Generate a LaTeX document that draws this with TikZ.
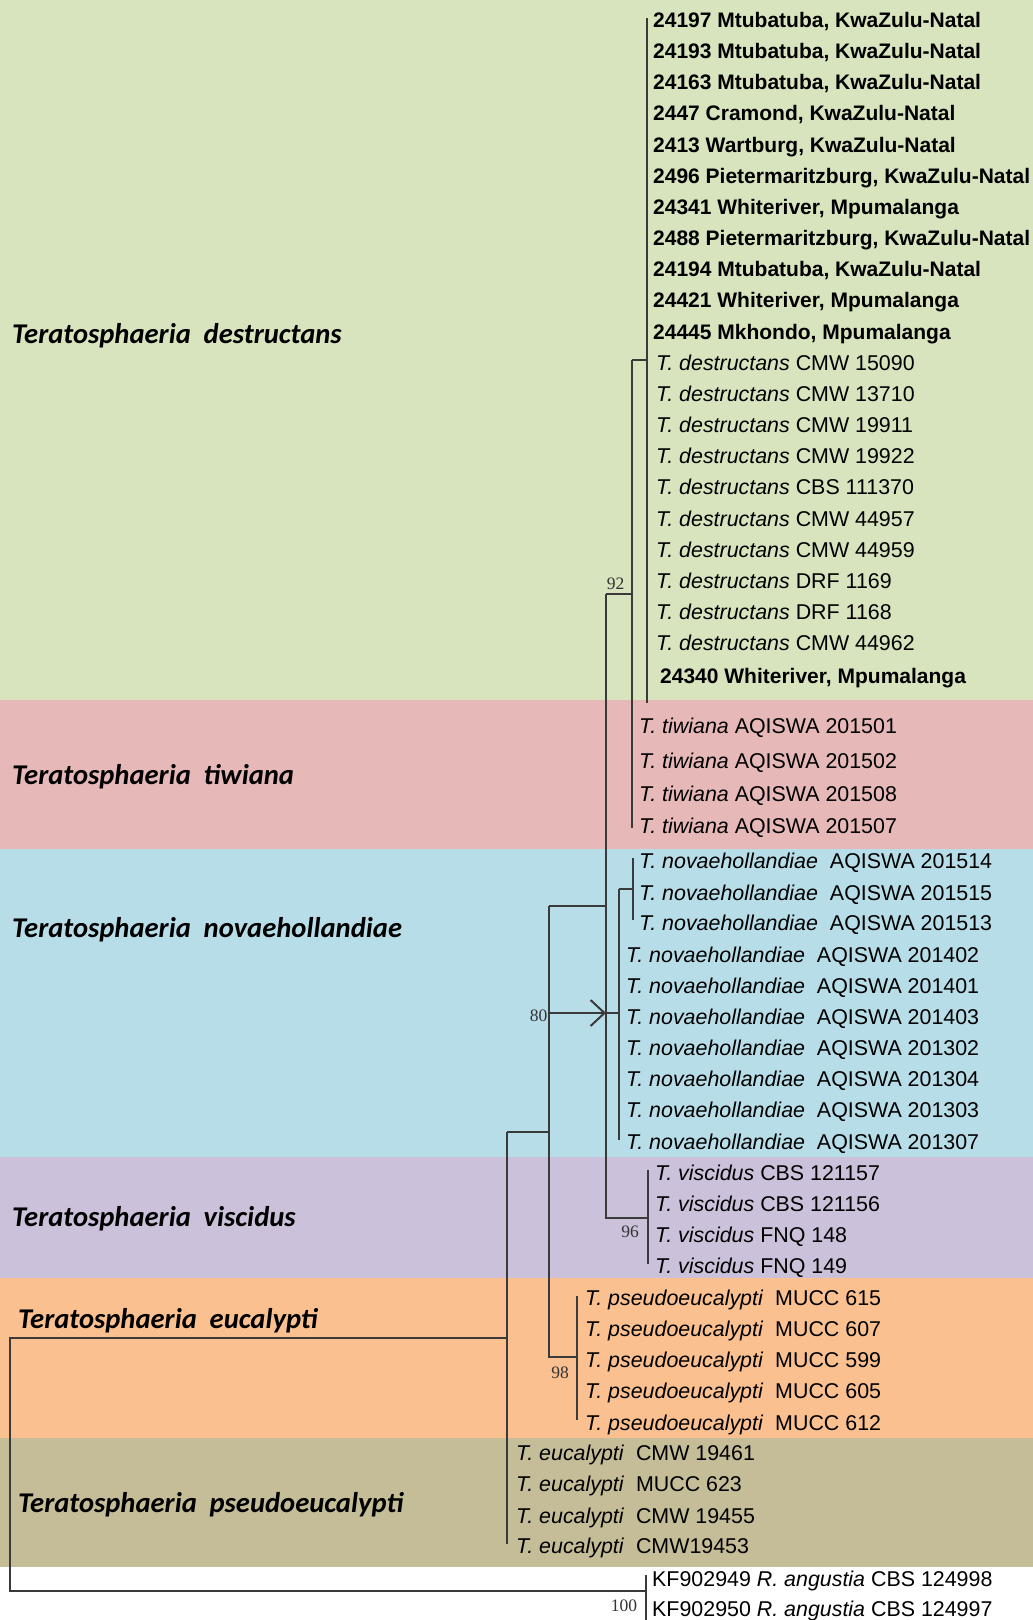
\documentclass[tikz,border=0pt]{standalone}
\usepackage{fontspec}
\setmainfont{Liberation Sans}
\newfontfamily\cladefont{Carlito}
\newfontfamily\bsfont{Liberation Serif}
\usetikzlibrary{arrows.meta}
\definecolor{bgreen}{HTML}{D7E4BD}
\definecolor{bpink}{HTML}{E6B9B8}
\definecolor{bblue}{HTML}{B7DEE8}
\definecolor{bpurple}{HTML}{CCC1DA}
\definecolor{borange}{HTML}{FAC090}
\definecolor{bolive}{HTML}{C4BD97}
\definecolor{treeline}{HTML}{3A3A3A}
\begin{document}
\begin{tikzpicture}[x=1pt,y=-1pt,
  leaf/.style={anchor=base west,inner sep=0pt,font=\fontsize{21.4}{21.4}\selectfont},
  boldleaf/.style={anchor=base west,inner sep=0pt,font=\fontsize{21}{21}\selectfont\bfseries},
  clade/.style={anchor=base west,inner sep=0pt,font=\cladefont\fontsize{28.6}{28.6}\selectfont\bfseries\itshape},
  bs/.style={inner sep=0pt,font=\bsfont\fontsize{17.5}{17.5}\selectfont,text=black!80},
  br/.style={draw=treeline,line width=1.2pt},
  arrowline/.style={draw=treeline,line width=2pt,-{Straight Barb[length=14pt,width=26pt,line width=2pt]}}
]
\useasboundingbox (0,0) rectangle (1033,1620);
% background bands
\fill[bgreen] (0,0) rectangle (1033,700);
\fill[bpink] (0,700) rectangle (1033,849);
\fill[bblue] (0,849) rectangle (1033,1157);
\fill[bpurple] (0,1157) rectangle (1033,1278);
\fill[borange] (0,1278) rectangle (1033,1438);
\fill[bolive] (0,1438) rectangle (1033,1567);

% clade labels
\newcommand{\gap}{\hspace{0.45em}}
\node[clade] (cl1) at (12,343) {Teratosphaeria\gap destructans};
\node[clade] (cl2) at (12,784) {Teratosphaeria\gap tiwiana};
\node[clade] (cl3) at (12,937) {Teratosphaeria\gap novaehollandiae};
\node[clade] (cl4) at (12,1226) {Teratosphaeria\gap viscidus};
\node[clade] (cl5) at (18,1328) {Teratosphaeria\gap eucalypti};
\node[clade] (cl6) at (18,1512) {Teratosphaeria\gap pseudoeucalypti};

% tree coordinates
\coordinate (dTop) at (647,18);
\coordinate (dBot) at (647,703);
\coordinate (dJoin) at (647,360);
\coordinate (dtNode) at (632,360);
\coordinate (dtBot) at (632,828);
\coordinate (dtJoin) at (632,594);
\coordinate (n92) at (606,594);
\coordinate (n92Bot) at (606,1218);
\coordinate (n92Mid) at (606,906);
\coordinate (n92Arr) at (606,1013);
\coordinate (vJoin) at (648,1218);
\coordinate (vTop) at (648,1170);
\coordinate (vBot) at (648,1264);
\coordinate (nvNode) at (619,1013);
\coordinate (nvTop) at (619,889);
\coordinate (nvBot) at (619,1140);
\coordinate (nvSubJoin) at (633,889);
\coordinate (nvSubTop) at (633,858);
\coordinate (nvSubBot) at (633,920);
\coordinate (n80) at (549,906);
\coordinate (n80Arr) at (549,1013);
\coordinate (n80Mid) at (549,1132);
\coordinate (n80Bot) at (549,1357);
\coordinate (peJoin) at (577,1357);
\coordinate (peTop) at (577,1296);
\coordinate (peBot) at (577,1420);
\coordinate (eNode) at (507,1132);
\coordinate (eMid) at (507,1338);
\coordinate (eBot) at (507,1544);
\coordinate (root) at (10,1338);
\coordinate (rootBot) at (10,1591);
\coordinate (ogJoin) at (646,1591);
\coordinate (ogTop) at (646,1575);
\coordinate (ogBot) at (646,1620);

% branches
\draw[br] (dTop) -- (dBot);
\draw[br] (dtNode) -- (dJoin);
\draw[br] (dtNode) -- (dtBot);
\draw[br] (n92) -- (dtJoin);
\draw[br] (n92) -- (n92Bot) -- (vJoin);
\draw[br] (vTop) -- (vBot);
\draw[br] (n80) -- (n92Mid);
\draw[arrowline] (n80Arr) -- (n92Arr);
\draw[br] (n92Arr) -- (nvNode);
\draw[br] (nvTop) -- (nvBot);
\draw[br] (nvTop) -- (nvSubJoin);
\draw[br] (nvSubTop) -- (nvSubBot);
\draw[br] (n80) -- (n80Bot) -- (peJoin);
\draw[br] (peTop) -- (peBot);
\draw[br] (eNode) -- (n80Mid);
\draw[br] (eNode) -- (eBot);
\draw[br] (eMid) -- (root) -- (rootBot) -- (ogJoin);
\draw[br] (ogTop) -- (ogBot);

% bootstrap values
\node[bs] (b92) at (615.5,584) {92};
\node[bs] (b80) at (538.5,1015.5) {80};
\node[bs] (b96) at (630,1232) {96};
\node[bs] (b98) at (560,1373) {98};
\node[bs] (b100) at (624,1606) {100};

% destructans leaves
\node[boldleaf] (d1) at (653,27.3) {24197 Mtubatuba, KwaZulu-Natal};
\node[boldleaf] (d2) at (653,58.5) {24193 Mtubatuba, KwaZulu-Natal};
\node[boldleaf] (d3) at (653,89.6) {24163 Mtubatuba, KwaZulu-Natal};
\node[boldleaf] (d4) at (653,120.8) {2447 Cramond, KwaZulu-Natal};
\node[boldleaf] (d5) at (653,152.0) {2413 Wartburg, KwaZulu-Natal};
\node[boldleaf] (d6) at (653,183.2) {2496 Pietermaritzburg, KwaZulu-Natal};
\node[boldleaf] (d7) at (653,214.3) {24341 Whiteriver, Mpumalanga};
\node[boldleaf] (d8) at (653,245.5) {2488 Pietermaritzburg, KwaZulu-Natal};
\node[boldleaf] (d9) at (653,276.7) {24194 Mtubatuba, KwaZulu-Natal};
\node[boldleaf] (d10) at (653,307.8) {24421 Whiteriver, Mpumalanga};
\node[boldleaf] (d11) at (653,339.0) {24445 Mkhondo, Mpumalanga};
\node[leaf] (d12) at (656,370.2) {\textit{T. destructans} CMW 15090};
\node[leaf] (d13) at (656,401.3) {\textit{T. destructans} CMW 13710};
\node[leaf] (d14) at (656,432.5) {\textit{T. destructans} CMW 19911};
\node[leaf] (d15) at (656,463.7) {\textit{T. destructans} CMW 19922};
\node[leaf] (d16) at (656,494.8) {\textit{T. destructans} CBS 111370};
\node[leaf] (d17) at (656,526.0) {\textit{T. destructans} CMW 44957};
\node[leaf] (d18) at (656,557.2) {\textit{T. destructans} CMW 44959};
\node[leaf] (d19) at (656,588.3) {\textit{T. destructans} DRF 1169};
\node[leaf] (d20) at (656,619.5) {\textit{T. destructans} DRF 1168};
\node[leaf] (d21) at (656,650.7) {\textit{T. destructans} CMW 44962};
\node[boldleaf] (d22) at (660,683) {24340 Whiteriver, Mpumalanga};

% tiwiana
\node[leaf] (t1) at (639,733.3) {\textit{T. tiwiana} AQISWA 201501};
\node[leaf] (t2) at (639,768.3) {\textit{T. tiwiana} AQISWA 201502};
\node[leaf] (t3) at (639,801) {\textit{T. tiwiana} AQISWA 201508};
\node[leaf] (t4) at (639,833.3) {\textit{T. tiwiana} AQISWA 201507};

% novaehollandiae
\node[leaf] (nv1) at (639,868.3) {\textit{T. novaehollandiae}~~AQISWA 201514};
\node[leaf] (nv2) at (639,900) {\textit{T. novaehollandiae}~~AQISWA 201515};
\node[leaf] (nv3) at (639,930.7) {\textit{T. novaehollandiae}~~AQISWA 201513};
\node[leaf] (nv4) at (626,962.7) {\textit{T. novaehollandiae}~~AQISWA 201402};
\node[leaf] (nv5) at (626,993.3) {\textit{T. novaehollandiae}~~AQISWA 201401};
\node[leaf] (nv6) at (626,1024.3) {\textit{T. novaehollandiae}~~AQISWA 201403};
\node[leaf] (nv7) at (626,1055) {\textit{T. novaehollandiae}~~AQISWA 201302};
\node[leaf] (nv8) at (626,1086.7) {\textit{T. novaehollandiae}~~AQISWA 201304};
\node[leaf] (nv9) at (626,1117.7) {\textit{T. novaehollandiae}~~AQISWA 201303};
\node[leaf] (nv10) at (626,1149) {\textit{T. novaehollandiae}~~AQISWA 201307};

% viscidus
\node[leaf] (v1) at (655,1180.7) {\textit{T. viscidus} CBS 121157};
\node[leaf] (v2) at (655,1211) {\textit{T. viscidus} CBS 121156};
\node[leaf] (v3) at (655,1242.3) {\textit{T. viscidus} FNQ 148};
\node[leaf] (v4) at (655,1273.3) {\textit{T. viscidus} FNQ 149};

% pseudoeucalypti
\node[leaf] (p1) at (585,1305) {\textit{T. pseudoeucalypti}~~MUCC 615};
\node[leaf] (p2) at (585,1336.7) {\textit{T. pseudoeucalypti}~~MUCC 607};
\node[leaf] (p3) at (585,1367.7) {\textit{T. pseudoeucalypti}~~MUCC 599};
\node[leaf] (p4) at (585,1398.3) {\textit{T. pseudoeucalypti}~~MUCC 605};
\node[leaf] (p5) at (585,1430) {\textit{T. pseudoeucalypti}~~MUCC 612};

% eucalypti
\node[leaf] (e1) at (516,1460.7) {\textit{T. eucalypti}~~CMW 19461};
\node[leaf] (e2) at (516,1491.7) {\textit{T. eucalypti}~~MUCC 623};
\node[leaf] (e3) at (516,1523.3) {\textit{T. eucalypti}~~CMW 19455};
\node[leaf] (e4) at (516,1553.3) {\textit{T. eucalypti}~~CMW19453};

% outgroup
\node[leaf] (o1) at (652,1586) {KF902949 \textit{R. angustia} CBS 124998};
\node[leaf] (o2) at (652,1616) {KF902950 \textit{R. angustia} CBS 124997};
\end{tikzpicture}
\end{document}
